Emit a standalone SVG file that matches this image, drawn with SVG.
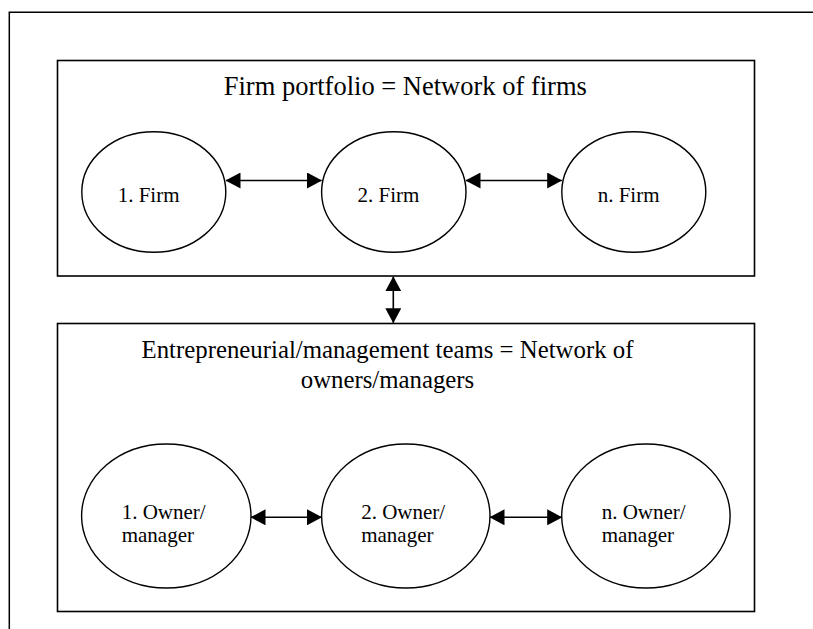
<svg xmlns="http://www.w3.org/2000/svg" width="813" height="629" viewBox="0 0 813 629">
<style>
  .frame { fill: none; stroke: #000; stroke-width: 1.5; }
  .box { fill: #fff; stroke: #000; stroke-width: 1.6; }
  .node { fill: #fff; stroke: #000; stroke-width: 1.4; }
  .title { font-family: "Liberation Serif", "Times New Roman", serif; fill: #000; text-anchor: middle; }
  .label { font-family: "Liberation Serif", "Times New Roman", serif; font-size: 21px; fill: #000; }
  .conn { stroke: #000; stroke-width: 1.6; fill: none; marker-start: url(#arr); marker-end: url(#arr); }
</style>
<defs>
  <marker id="arr" viewBox="0 0 15 16" refX="14.5" refY="8" markerWidth="15" markerHeight="16" markerUnits="userSpaceOnUse" orient="auto-start-reverse">
    <path d="M0,0 L15,8 L0,16 z" fill="#000"/>
  </marker>
</defs>
<rect width="813" height="629" fill="#fff"/>
<g id="outer-frame">
  <path class="frame" d="M9.3,629 L9.3,12.3 L813,12.3"/>
</g>
<g id="firm-portfolio">
  <rect class="box" x="57.5" y="60.5" width="697" height="215.5"/>
  <text class="title" x="405.3" y="95" font-size="26.5">Firm portfolio = Network of firms</text>
</g>
<g id="firm-1">
  <ellipse class="node" cx="153.8" cy="192" rx="72" ry="60.3"/>
  <text class="label" x="117.7" y="202">1. Firm</text>
</g>
<g id="firm-2">
  <ellipse class="node" cx="393.8" cy="192" rx="72.2" ry="60.3"/>
  <text class="label" x="357.5" y="202">2. Firm</text>
</g>
<g id="firm-n">
  <ellipse class="node" cx="633.8" cy="192" rx="72" ry="60.3"/>
  <text class="label" x="597.7" y="202">n. Firm</text>
</g>
<g id="teams">
  <rect class="box" x="57.5" y="323.5" width="697" height="288"/>
  <text class="title" x="387.5" y="358" font-size="24.8">Entrepreneurial/management teams = Network of</text>
  <text class="title" x="387.5" y="388" font-size="24.8">owners/managers</text>
</g>
<g id="owner-1">
  <ellipse class="node" cx="166.3" cy="516" rx="84.7" ry="72"/>
  <text class="label" x="121.7" y="519">1. Owner/</text>
  <text class="label" x="121.7" y="542">manager</text>
</g>
<g id="owner-2">
  <ellipse class="node" cx="405.8" cy="516" rx="84.2" ry="72"/>
  <text class="label" x="361.2" y="519">2. Owner/</text>
  <text class="label" x="361.2" y="542">manager</text>
</g>
<g id="owner-n">
  <ellipse class="node" cx="645.9" cy="516" rx="84.2" ry="72"/>
  <text class="label" x="601.7" y="519">n. Owner/</text>
  <text class="label" x="601.7" y="542">manager</text>
</g>
<g id="connectors">
  <line class="conn" x1="226" y1="180.5" x2="321.5" y2="180.5"/>
  <line class="conn" x1="466" y1="180.5" x2="561.7" y2="180.5"/>
  <line class="conn" x1="393.3" y1="276.8" x2="393.3" y2="322.7"/>
  <line class="conn" x1="251" y1="517.3" x2="321.5" y2="517.3"/>
  <line class="conn" x1="490" y1="517.3" x2="561.7" y2="517.3"/>
</g>
</svg>
